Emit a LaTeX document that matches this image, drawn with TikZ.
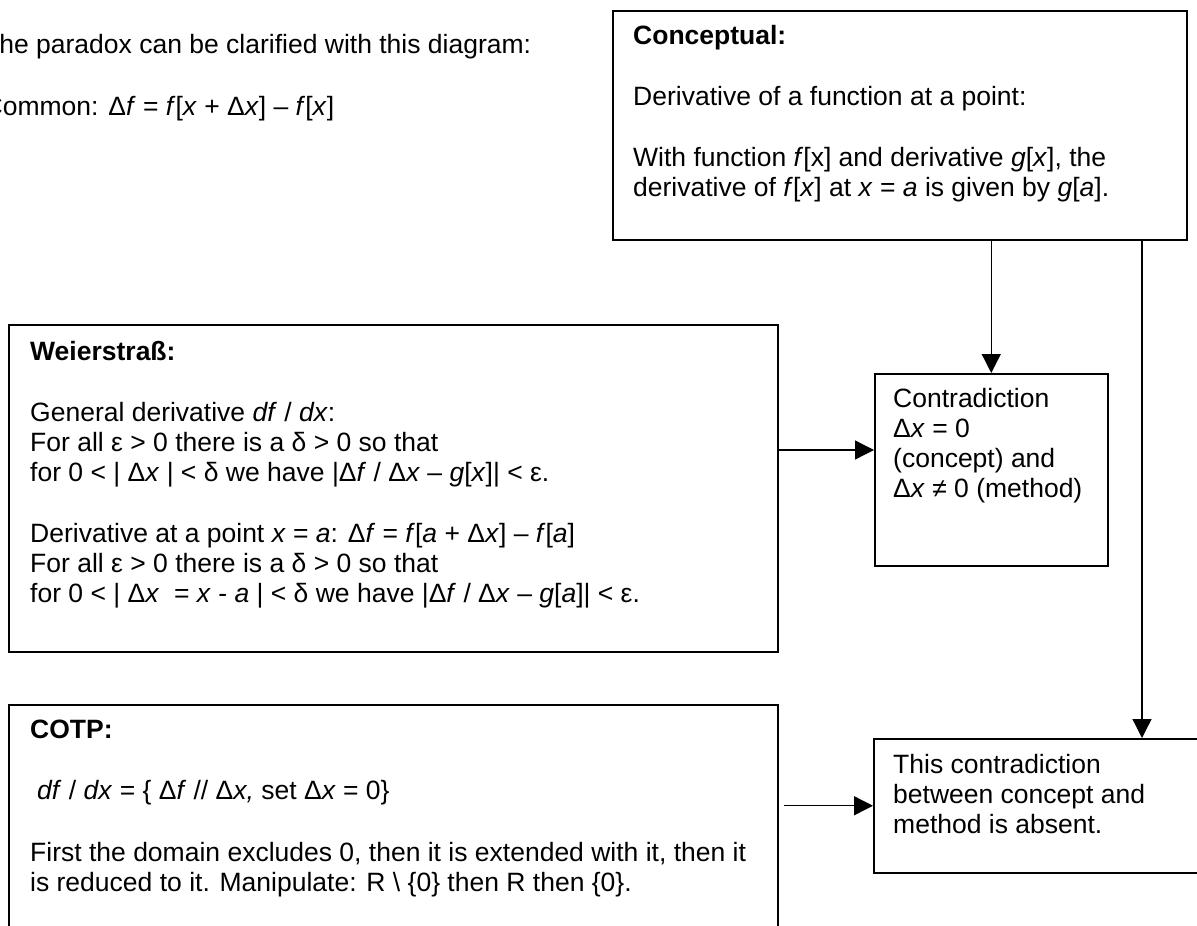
\documentclass[tikz,border=0pt]{standalone}
\usepackage{fontspec}
\setmainfont{Liberation Sans}
\usetikzlibrary{arrows.meta}
\tikzset{
  txt/.style={anchor=base west, inner sep=0pt, font=\fontsize{26.5}{30}\selectfont},
  boxnode/.style={draw, line width=1.5pt, inner sep=0pt, anchor=north west, rectangle},
  arr/.style={line width=1.3pt, -{Triangle[length=19pt,width=19pt]}}
}
\begin{document}
\begin{tikzpicture}[x=1pt,y=-1pt]
\useasboundingbox (0,0) rectangle (1197,926);
\fill[white] (0,0) rectangle (1197,926);
\clip (0,0) rectangle (1197,926);
% top text
\node[txt] (intro) at (-17,53) {The paradox can be clarified with this diagram:};
\node[txt] (common) at (-16.5,115) {Common: Δ\textit{f} = \textit{f}[\textit{x} + Δ\textit{x}] – \textit{f}[\textit{x}]};
% boxes
\node[boxnode, minimum width=574pt, minimum height=229pt] (conc) at (612,10) {};
\node[boxnode, minimum width=769pt, minimum height=327pt] (weier) at (8,324) {};
\node[boxnode, minimum width=769pt, minimum height=300pt] (cotp) at (8,704) {};
\node[boxnode, minimum width=233pt, minimum height=192pt] (contra) at (874,373) {};
\node[boxnode, minimum width=400pt, minimum height=134pt] (absent) at (873,738) {};
% conceptual text
\node[txt] (c1) at (633,44) {\textbf{Conceptual:}};
\node[txt] (c2) at (633,105) {Derivative of a function at a point:};
\node[txt] (c3) at (633,166) {With function \textit{f}[x] and derivative \textit{g}[\textit{x}], the};
\node[txt] (c4) at (633,196) {derivative of \textit{f}[\textit{x}] at \textit{x} = \textit{a} is given by \textit{g}[\textit{a}].};
% Weierstrass text
\node[txt] (w1) at (30,360) {\textbf{Weierstraß:}};
\node[txt] (w2) at (30,421) {General derivative \textit{df} / \textit{dx}:};
\node[txt] (w3) at (30,451) {For all ε > 0 there is a δ > 0 so that};
\node[txt] (w4) at (30,481) {for 0 < | Δ\textit{x} | < δ we have |Δ\textit{f} / Δ\textit{x} – \textit{g}[\textit{x}]| < ε.};
\node[txt] (w5) at (30,542) {Derivative at a point \textit{x} = \textit{a}: Δ\textit{f} = \textit{f}[\textit{a} + Δ\textit{x}] – \textit{f}[\textit{a}]};
\node[txt] (w6) at (30,572) {For all ε > 0 there is a δ > 0 so that};
\node[txt] (w7) at (30,602) {for 0 < | Δ\textit{x} \ = \textit{x} - \textit{a} | < δ we have |Δ\textit{f} / Δ\textit{x} – \textit{g}[\textit{a}]| < ε.};
% COTP text
\node[txt] (p1) at (30,738) {\textbf{COTP:}};
\node[txt] (p2) at (37,799) {\textit{df} / \textit{dx} = \{ Δ\textit{f} // Δ\textit{x,} set Δ\textit{x} = 0\}};
\node[txt] (p3) at (30,861) {First the domain excludes 0, then it is extended with it, then it};
\node[txt] (p4) at (30,891) {is reduced to it. Manipulate: R \textbackslash\ \{0\} then R then \{0\}.};
% contradiction text
\node[txt] (k1) at (893,407) {Contradiction};
\node[txt] (k2) at (893,437) {Δ\textit{x} = 0};
\node[txt] (k3) at (893,467) {(concept) and};
\node[txt] (k4) at (893,497) {Δ\textit{x} ≠ 0 (method)};
% absent text
\node[txt] (a1) at (893,773) {This contradiction};
\node[txt] (a2) at (893,803) {between concept and};
\node[txt] (a3) at (893,833) {method is absent.};
% connectors
\coordinate (rx) at (1142,0);
\coordinate (wy) at (0,450);
\draw[arr] (contra.north |- conc.south) -- (contra.north);
\draw[arr] (rx |- conc.south) -- (rx |- absent.north);
\draw[arr] (weier.east |- wy) -- (contra.west |- wy);
\draw[arr] ([xshift=5pt]cotp.east |- absent.west) -- (absent.west);
\end{tikzpicture}
\end{document}
